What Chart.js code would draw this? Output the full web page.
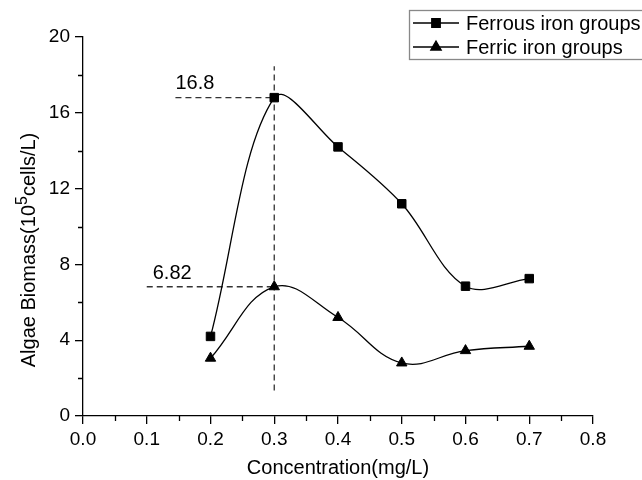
<!DOCTYPE html>
<html>
<head>
<meta charset="utf-8">
<script src="https://cdn.jsdelivr.net/npm/chart.js@4/dist/chart.umd.min.js"></script>
<style>
  html, body { margin: 0; padding: 0; background: #fff; }
  #wrap { width: 642px; height: 480px; }
</style>
</head>
<body>
<div id="wrap"><canvas id="c" width="642" height="480"></canvas></div>
<script>
// ── Data ──────────────────────────────────────────────────────────────
const concentration = [0.2, 0.3, 0.4, 0.5, 0.6, 0.7];
const ferrous = [4.2, 16.8, 14.2, 11.2, 6.85, 7.25];
const ferric  = [3.05, 6.82, 5.2, 2.8, 3.45, 3.68];

const seriesNames = ['Ferrous iron groups', 'Ferric iron groups'];

// reference lines (dashed) and their labels
const refFerrousX = [0.145, 0.3];
const refFerricX  = [0.1, 0.3];
const refVertY    = [1.35, 18.45];
const refLabels   = ['16.8', '6.82'];

const FONT = "'Liberation Sans', Arial, sans-serif";
const INK  = '#000';

const pts = (xs, ys) => xs.map((x, i) => ({ x, y: ys[i] }));

// ── Plugin: minor ticks, axis titles, legend, value labels ───────────
const extras = {
  id: 'extras',
  afterDraw(chart) {
    const { ctx, scales: { x, y } } = chart;
    ctx.save();
    ctx.strokeStyle = INK;
    ctx.lineWidth = 1.3;

    // minor ticks
    const x0 = x.getPixelForValue(0);
    const y0 = y.getPixelForValue(0);
    ctx.beginPath();
    for (let v = 0.05; v < 0.8; v += 0.1) {
      const px = Math.round(x.getPixelForValue(v)) + 0.5;
      ctx.moveTo(px, y0); ctx.lineTo(px, y0 + 5);
    }
    for (let v = 2; v < 20; v += 4) {
      const py = Math.round(y.getPixelForValue(v)) + 0.5;
      ctx.moveTo(x0, py); ctx.lineTo(x0 - 5, py);
    }
    ctx.stroke();

    // value labels next to dashed lines
    ctx.fillStyle = INK;
    ctx.font = `20px ${FONT}`;
    ctx.textAlign = 'left';
    ctx.textBaseline = 'alphabetic';
    ctx.fillText(refLabels[0], x.getPixelForValue(refFerrousX[0]), y.getPixelForValue(ferrous[1]) - 9);
    ctx.fillText(refLabels[1], x.getPixelForValue(refFerricX[0]) + 6, y.getPixelForValue(ferric[1]) - 8);

    // x title
    ctx.textAlign = 'center';
    ctx.fillText('Concentration(mg/L)', (x.left + x.right) / 2, 474);

    // y title with superscript
    ctx.save();
    ctx.translate(35, 250);
    ctx.rotate(-Math.PI / 2);
    ctx.textAlign = 'left';
    const p1 = 'Algae Biomass(10', p2 = '5', p3 = 'cells/L)';
    ctx.font = `20px ${FONT}`;
    const w1 = ctx.measureText(p1).width, w3 = ctx.measureText(p3).width;
    ctx.font = `16px ${FONT}`;
    const w2 = ctx.measureText(p2).width;
    let sx = -(w1 + w2 + w3) / 2;
    ctx.font = `20px ${FONT}`;
    ctx.fillText(p1, sx, 0);
    ctx.font = `16px ${FONT}`;
    ctx.fillText(p2, sx + w1, -8);
    ctx.font = `20px ${FONT}`;
    ctx.fillText(p3, sx + w1 + w2, 0);
    ctx.restore();

    // legend
    ctx.strokeStyle = '#888';
    ctx.lineWidth = 1.3;
    ctx.strokeRect(409.5, 10.5, 260, 49);
    const rows = [23, 47];
    const styles = ['rect', 'triangle'];
    ctx.font = `20px ${FONT}`;
    ctx.textAlign = 'left';
    ctx.textBaseline = 'middle';
    rows.forEach((ry, i) => {
      ctx.strokeStyle = INK;
      ctx.lineWidth = 1.3;
      ctx.beginPath();
      ctx.moveTo(413, ry); ctx.lineTo(459, ry);
      ctx.stroke();
      ctx.fillStyle = INK;
      Chart.helpers.drawPoint(ctx, { pointStyle: styles[i], radius: 6, borderWidth: 1 }, 436, ry);
      ctx.fillText(seriesNames[i], 466, ry + 1);
    });
    ctx.restore();
  }
};

const dashed = {
  borderColor: '#333',
  borderWidth: 1.3,
  borderDash: [6, 4],
  pointRadius: 0,
  tension: 0,
  fill: false,
};

new Chart(document.getElementById('c'), {
  type: 'line',
  data: {
    datasets: [
      {
        label: seriesNames[0],
        data: pts(concentration, ferrous),
        borderColor: INK,
        backgroundColor: INK,
        borderWidth: 1.3,
        tension: 0.35,
        pointStyle: 'rect',
        pointRadius: 6,
        pointBorderWidth: 1,
        fill: false,
      },
      {
        label: seriesNames[1],
        data: pts(concentration, ferric),
        borderColor: INK,
        backgroundColor: INK,
        borderWidth: 1.3,
        tension: 0.4,
        pointStyle: 'triangle',
        pointRadius: 6,
        pointBorderWidth: 1,
        fill: false,
      },
      { ...dashed, data: pts(refFerrousX, [ferrous[1], ferrous[1]]) },
      { ...dashed, data: pts(refFerricX, [ferric[1], ferric[1]]) },
      { ...dashed, data: pts([0.3, 0.3], refVertY) },
    ],
  },
  options: {
    responsive: false,
    animation: false,
    events: [],
    layout: { padding: { top: 37, right: 49, left: 0, bottom: 0 } },
    plugins: { legend: { display: false }, tooltip: { enabled: false } },
    scales: {
      x: {
        type: 'linear',
        min: 0, max: 0.8,
        afterFit: s => { s.height = 64; },
        border: { display: true, color: INK, width: 1.3 },
        grid: { drawOnChartArea: false, drawTicks: true, tickLength: 8, color: INK, lineWidth: 1.3 },
        ticks: {
          stepSize: 0.1,
          color: INK,
          padding: 4,
          font: { family: FONT, size: 19 },
          callback: v => Number(v).toFixed(1),
        },
      },
      y: {
        min: 0, max: 20,
        afterFit: s => { s.width = 83; },
        border: { display: true, color: INK, width: 1.3 },
        grid: { drawOnChartArea: false, drawTicks: true, tickLength: 8, color: INK, lineWidth: 1.3 },
        ticks: {
          stepSize: 4,
          color: INK,
          padding: 5,
          font: { family: FONT, size: 19 },
        },
      },
    },
  },
  plugins: [extras],
});
</script>
</body>
</html>
